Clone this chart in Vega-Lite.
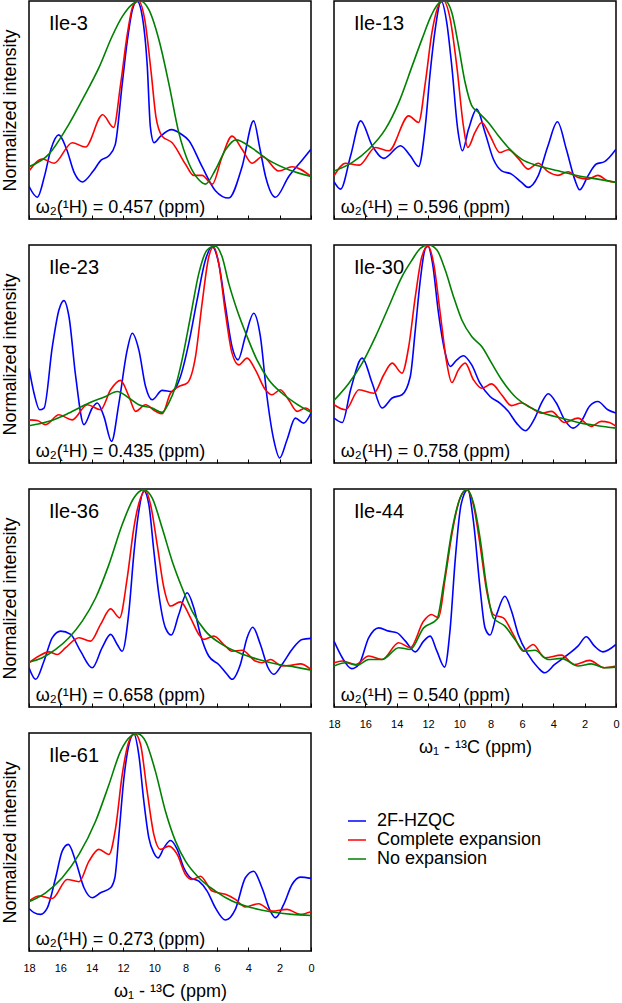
{
"$schema":"https://vega.github.io/schema/vega-lite/v6.json",
"padding":{"left":0,"top":0,"right":0,"bottom":0},
"data":{"values":[
{"p":"Ile-3","w":"ω₂(¹H) = 0.457 (ppm)"},
{"p":"Ile-13","w":"ω₂(¹H) = 0.596 (ppm)"},
{"p":"Ile-23","w":"ω₂(¹H) = 0.435 (ppm)"},
{"p":"Ile-30","w":"ω₂(¹H) = 0.758 (ppm)"},
{"p":"Ile-36","w":"ω₂(¹H) = 0.658 (ppm)"},
{"p":"Ile-44","w":"ω₂(¹H) = 0.540 (ppm)"},
{"p":"Ile-61","w":"ω₂(¹H) = 0.273 (ppm)"},

{"p":"Ile-3","s":"2F-HZQC","x":18,"y":0.15},{"p":"Ile-3","s":"2F-HZQC","x":17.47,"y":0.10},{"p":"Ile-3","s":"2F-HZQC","x":17.0,"y":0.2},{"p":"Ile-3","s":"2F-HZQC","x":16.6,"y":0.32},{"p":"Ile-3","s":"2F-HZQC","x":16.1,"y":0.386},{"p":"Ile-3","s":"2F-HZQC","x":15.6,"y":0.32},{"p":"Ile-3","s":"2F-HZQC","x":15.1,"y":0.21},{"p":"Ile-3","s":"2F-HZQC","x":14.6,"y":0.17},{"p":"Ile-3","s":"2F-HZQC","x":13.9,"y":0.22},{"p":"Ile-3","s":"2F-HZQC","x":13.4,"y":0.27},{"p":"Ile-3","s":"2F-HZQC","x":12.9,"y":0.29},{"p":"Ile-3","s":"2F-HZQC","x":12.5,"y":0.34},{"p":"Ile-3","s":"2F-HZQC","x":12.05,"y":0.62},{"p":"Ile-3","s":"2F-HZQC","x":11.72,"y":0.82},{"p":"Ile-3","s":"2F-HZQC","x":11.4,"y":0.96},{"p":"Ile-3","s":"2F-HZQC","x":11.1,"y":1.0},{"p":"Ile-3","s":"2F-HZQC","x":10.77,"y":0.93},{"p":"Ile-3","s":"2F-HZQC","x":10.45,"y":0.70},{"p":"Ile-3","s":"2F-HZQC","x":10.25,"y":0.42},{"p":"Ile-3","s":"2F-HZQC","x":10.02,"y":0.35},{"p":"Ile-3","s":"2F-HZQC","x":9.6,"y":0.38},{"p":"Ile-3","s":"2F-HZQC","x":8.9,"y":0.41},{"p":"Ile-3","s":"2F-HZQC","x":8.3,"y":0.39},{"p":"Ile-3","s":"2F-HZQC","x":7.8,"y":0.36},{"p":"Ile-3","s":"2F-HZQC","x":6.95,"y":0.24},{"p":"Ile-3","s":"2F-HZQC","x":6.1,"y":0.13},{"p":"Ile-3","s":"2F-HZQC","x":5.25,"y":0.096},{"p":"Ile-3","s":"2F-HZQC","x":4.4,"y":0.24},{"p":"Ile-3","s":"2F-HZQC","x":3.66,"y":0.45},{"p":"Ile-3","s":"2F-HZQC","x":3.28,"y":0.33},{"p":"Ile-3","s":"2F-HZQC","x":2.9,"y":0.195},{"p":"Ile-3","s":"2F-HZQC","x":2.27,"y":0.10},{"p":"Ile-3","s":"2F-HZQC","x":1.42,"y":0.195},{"p":"Ile-3","s":"2F-HZQC","x":0.57,"y":0.27},{"p":"Ile-3","s":"2F-HZQC","x":0,"y":0.32},

{"p":"Ile-3","s":"Complete expansion","x":18,"y":0.22},{"p":"Ile-3","s":"Complete expansion","x":17.15,"y":0.275},{"p":"Ile-3","s":"Complete expansion","x":16.4,"y":0.256},{"p":"Ile-3","s":"Complete expansion","x":15.24,"y":0.35},{"p":"Ile-3","s":"Complete expansion","x":14.4,"y":0.33},{"p":"Ile-3","s":"Complete expansion","x":13.3,"y":0.478},{"p":"Ile-3","s":"Complete expansion","x":12.6,"y":0.42},{"p":"Ile-3","s":"Complete expansion","x":12.15,"y":0.62},{"p":"Ile-3","s":"Complete expansion","x":11.72,"y":0.85},{"p":"Ile-3","s":"Complete expansion","x":11.35,"y":0.98},{"p":"Ile-3","s":"Complete expansion","x":11.0,"y":1.0},{"p":"Ile-3","s":"Complete expansion","x":10.6,"y":0.91},{"p":"Ile-3","s":"Complete expansion","x":10.2,"y":0.67},{"p":"Ile-3","s":"Complete expansion","x":9.9,"y":0.47},{"p":"Ile-3","s":"Complete expansion","x":9.5,"y":0.38},{"p":"Ile-3","s":"Complete expansion","x":8.86,"y":0.35},{"p":"Ile-3","s":"Complete expansion","x":8.0,"y":0.25},{"p":"Ile-3","s":"Complete expansion","x":7.5,"y":0.2},{"p":"Ile-3","s":"Complete expansion","x":6.95,"y":0.2},{"p":"Ile-3","s":"Complete expansion","x":6.3,"y":0.16},{"p":"Ile-3","s":"Complete expansion","x":5.7,"y":0.28},{"p":"Ile-3","s":"Complete expansion","x":5.04,"y":0.38},{"p":"Ile-3","s":"Complete expansion","x":4.4,"y":0.32},{"p":"Ile-3","s":"Complete expansion","x":3.76,"y":0.256},{"p":"Ile-3","s":"Complete expansion","x":3.1,"y":0.287},{"p":"Ile-3","s":"Complete expansion","x":2.06,"y":0.22},{"p":"Ile-3","s":"Complete expansion","x":1.2,"y":0.24},{"p":"Ile-3","s":"Complete expansion","x":0,"y":0.195},

{"p":"Ile-3","s":"No expansion","x":18,"y":0.24},{"p":"Ile-3","s":"No expansion","x":16.7,"y":0.30},{"p":"Ile-3","s":"No expansion","x":15.66,"y":0.41},{"p":"Ile-3","s":"No expansion","x":14.6,"y":0.547},{"p":"Ile-3","s":"No expansion","x":13.5,"y":0.70},{"p":"Ile-3","s":"No expansion","x":12.7,"y":0.837},{"p":"Ile-3","s":"No expansion","x":12.05,"y":0.928},{"p":"Ile-3","s":"No expansion","x":11.4,"y":0.986},{"p":"Ile-3","s":"No expansion","x":10.9,"y":1.0},{"p":"Ile-3","s":"No expansion","x":10.35,"y":0.96},{"p":"Ile-3","s":"No expansion","x":9.7,"y":0.82},{"p":"Ile-3","s":"No expansion","x":9.07,"y":0.62},{"p":"Ile-3","s":"No expansion","x":8.43,"y":0.394},{"p":"Ile-3","s":"No expansion","x":7.8,"y":0.256},{"p":"Ile-3","s":"No expansion","x":7.16,"y":0.18},{"p":"Ile-3","s":"No expansion","x":6.74,"y":0.16},{"p":"Ile-3","s":"No expansion","x":6.1,"y":0.226},{"p":"Ile-3","s":"No expansion","x":5.46,"y":0.317},{"p":"Ile-3","s":"No expansion","x":4.8,"y":0.363},{"p":"Ile-3","s":"No expansion","x":3.76,"y":0.325},{"p":"Ile-3","s":"No expansion","x":2.7,"y":0.27},{"p":"Ile-3","s":"No expansion","x":1.42,"y":0.226},{"p":"Ile-3","s":"No expansion","x":0,"y":0.195},

{"p":"Ile-13","s":"2F-HZQC","x":18,"y":0.171},{"p":"Ile-13","s":"2F-HZQC","x":17.58,"y":0.137},{"p":"Ile-13","s":"2F-HZQC","x":16.94,"y":0.29},{"p":"Ile-13","s":"2F-HZQC","x":16.3,"y":0.45},{"p":"Ile-13","s":"2F-HZQC","x":15.56,"y":0.336},{"p":"Ile-13","s":"2F-HZQC","x":14.82,"y":0.278},{"p":"Ile-13","s":"2F-HZQC","x":13.76,"y":0.336},{"p":"Ile-13","s":"2F-HZQC","x":13.13,"y":0.29},{"p":"Ile-13","s":"2F-HZQC","x":12.6,"y":0.241},{"p":"Ile-13","s":"2F-HZQC","x":12.17,"y":0.427},{"p":"Ile-13","s":"2F-HZQC","x":11.86,"y":0.672},{"p":"Ile-13","s":"2F-HZQC","x":11.54,"y":0.87},{"p":"Ile-13","s":"2F-HZQC","x":11.16,"y":1.0},{"p":"Ile-13","s":"2F-HZQC","x":10.8,"y":0.90},{"p":"Ile-13","s":"2F-HZQC","x":10.48,"y":0.70},{"p":"Ile-13","s":"2F-HZQC","x":10.1,"y":0.41},{"p":"Ile-13","s":"2F-HZQC","x":9.8,"y":0.313},{"p":"Ile-13","s":"2F-HZQC","x":9.42,"y":0.41},{"p":"Ile-13","s":"2F-HZQC","x":8.89,"y":0.504},{"p":"Ile-13","s":"2F-HZQC","x":8.36,"y":0.397},{"p":"Ile-13","s":"2F-HZQC","x":7.83,"y":0.275},{"p":"Ile-13","s":"2F-HZQC","x":7.3,"y":0.221},{"p":"Ile-13","s":"2F-HZQC","x":6.67,"y":0.206},{"p":"Ile-13","s":"2F-HZQC","x":6.03,"y":0.168},{"p":"Ile-13","s":"2F-HZQC","x":5.61,"y":0.145},{"p":"Ile-13","s":"2F-HZQC","x":4.97,"y":0.198},{"p":"Ile-13","s":"2F-HZQC","x":4.34,"y":0.336},{"p":"Ile-13","s":"2F-HZQC","x":3.74,"y":0.446},{"p":"Ile-13","s":"2F-HZQC","x":3.17,"y":0.32},{"p":"Ile-13","s":"2F-HZQC","x":2.64,"y":0.183},{"p":"Ile-13","s":"2F-HZQC","x":2.32,"y":0.134},{"p":"Ile-13","s":"2F-HZQC","x":1.79,"y":0.198},{"p":"Ile-13","s":"2F-HZQC","x":1.26,"y":0.252},{"p":"Ile-13","s":"2F-HZQC","x":0.73,"y":0.263},{"p":"Ile-13","s":"2F-HZQC","x":0,"y":0.32},

{"p":"Ile-13","s":"Complete expansion","x":18,"y":0.198},{"p":"Ile-13","s":"Complete expansion","x":17.26,"y":0.256},{"p":"Ile-13","s":"Complete expansion","x":16.4,"y":0.247},{"p":"Ile-13","s":"Complete expansion","x":15.35,"y":0.328},{"p":"Ile-13","s":"Complete expansion","x":14.5,"y":0.313},{"p":"Ile-13","s":"Complete expansion","x":13.23,"y":0.473},{"p":"Ile-13","s":"Complete expansion","x":12.6,"y":0.443},{"p":"Ile-13","s":"Complete expansion","x":12.17,"y":0.626},{"p":"Ile-13","s":"Complete expansion","x":11.75,"y":0.855},{"p":"Ile-13","s":"Complete expansion","x":11.22,"y":0.992},{"p":"Ile-13","s":"Complete expansion","x":11.0,"y":1.0},{"p":"Ile-13","s":"Complete expansion","x":10.58,"y":0.916},{"p":"Ile-13","s":"Complete expansion","x":10.16,"y":0.70},{"p":"Ile-13","s":"Complete expansion","x":9.74,"y":0.427},{"p":"Ile-13","s":"Complete expansion","x":9.46,"y":0.328},{"p":"Ile-13","s":"Complete expansion","x":9.0,"y":0.397},{"p":"Ile-13","s":"Complete expansion","x":8.57,"y":0.443},{"p":"Ile-13","s":"Complete expansion","x":8.04,"y":0.382},{"p":"Ile-13","s":"Complete expansion","x":7.41,"y":0.305},{"p":"Ile-13","s":"Complete expansion","x":6.88,"y":0.318},{"p":"Ile-13","s":"Complete expansion","x":6.24,"y":0.278},{"p":"Ile-13","s":"Complete expansion","x":5.61,"y":0.229},{"p":"Ile-13","s":"Complete expansion","x":4.97,"y":0.256},{"p":"Ile-13","s":"Complete expansion","x":4.34,"y":0.217},{"p":"Ile-13","s":"Complete expansion","x":3.7,"y":0.20},{"p":"Ile-13","s":"Complete expansion","x":3.06,"y":0.217},{"p":"Ile-13","s":"Complete expansion","x":2.43,"y":0.19},{"p":"Ile-13","s":"Complete expansion","x":1.79,"y":0.183},{"p":"Ile-13","s":"Complete expansion","x":1.16,"y":0.20},{"p":"Ile-13","s":"Complete expansion","x":0.52,"y":0.175},{"p":"Ile-13","s":"Complete expansion","x":0,"y":0.168},

{"p":"Ile-13","s":"No expansion","x":18,"y":0.22},{"p":"Ile-13","s":"No expansion","x":16.83,"y":0.26},{"p":"Ile-13","s":"No expansion","x":15.78,"y":0.32},{"p":"Ile-13","s":"No expansion","x":14.72,"y":0.412},{"p":"Ile-13","s":"No expansion","x":13.87,"y":0.534},{"p":"Ile-13","s":"No expansion","x":13.02,"y":0.70},{"p":"Ile-13","s":"No expansion","x":12.39,"y":0.824},{"p":"Ile-13","s":"No expansion","x":11.75,"y":0.94},{"p":"Ile-13","s":"No expansion","x":11.22,"y":0.995},{"p":"Ile-13","s":"No expansion","x":10.9,"y":1.0},{"p":"Ile-13","s":"No expansion","x":10.48,"y":0.947},{"p":"Ile-13","s":"No expansion","x":10.05,"y":0.794},{"p":"Ile-13","s":"No expansion","x":9.63,"y":0.626},{"p":"Ile-13","s":"No expansion","x":9.2,"y":0.519},{"p":"Ile-13","s":"No expansion","x":8.78,"y":0.489},{"p":"Ile-13","s":"No expansion","x":8.15,"y":0.443},{"p":"Ile-13","s":"No expansion","x":7.51,"y":0.382},{"p":"Ile-13","s":"No expansion","x":6.88,"y":0.328},{"p":"Ile-13","s":"No expansion","x":6.03,"y":0.275},{"p":"Ile-13","s":"No expansion","x":4.97,"y":0.244},{"p":"Ile-13","s":"No expansion","x":3.7,"y":0.221},{"p":"Ile-13","s":"No expansion","x":2.43,"y":0.198},{"p":"Ile-13","s":"No expansion","x":1.16,"y":0.183},{"p":"Ile-13","s":"No expansion","x":0,"y":0.168},

{"p":"Ile-23","s":"2F-HZQC","x":18,"y":0.435},{"p":"Ile-23","s":"2F-HZQC","x":17.68,"y":0.32},{"p":"Ile-23","s":"2F-HZQC","x":17.32,"y":0.244},{"p":"Ile-23","s":"2F-HZQC","x":17.04,"y":0.252},{"p":"Ile-23","s":"2F-HZQC","x":16.51,"y":0.534},{"p":"Ile-23","s":"2F-HZQC","x":16.09,"y":0.702},{"p":"Ile-23","s":"2F-HZQC","x":15.77,"y":0.745},{"p":"Ile-23","s":"2F-HZQC","x":15.45,"y":0.672},{"p":"Ile-23","s":"2F-HZQC","x":15.02,"y":0.397},{"p":"Ile-23","s":"2F-HZQC","x":14.49,"y":0.176},{"p":"Ile-23","s":"2F-HZQC","x":13.96,"y":0.252},{"p":"Ile-23","s":"2F-HZQC","x":13.64,"y":0.275},{"p":"Ile-23","s":"2F-HZQC","x":13.22,"y":0.214},{"p":"Ile-23","s":"2F-HZQC","x":12.73,"y":0.099},{"p":"Ile-23","s":"2F-HZQC","x":12.26,"y":0.275},{"p":"Ile-23","s":"2F-HZQC","x":11.73,"y":0.519},{"p":"Ile-23","s":"2F-HZQC","x":11.41,"y":0.595},{"p":"Ile-23","s":"2F-HZQC","x":10.99,"y":0.519},{"p":"Ile-23","s":"2F-HZQC","x":10.56,"y":0.351},{"p":"Ile-23","s":"2F-HZQC","x":10.14,"y":0.29},{"p":"Ile-23","s":"2F-HZQC","x":9.5,"y":0.333},{"p":"Ile-23","s":"2F-HZQC","x":8.86,"y":0.328},{"p":"Ile-23","s":"2F-HZQC","x":8.33,"y":0.397},{"p":"Ile-23","s":"2F-HZQC","x":7.8,"y":0.55},{"p":"Ile-23","s":"2F-HZQC","x":7.27,"y":0.748},{"p":"Ile-23","s":"2F-HZQC","x":6.74,"y":0.931},{"p":"Ile-23","s":"2F-HZQC","x":6.31,"y":0.992},{"p":"Ile-23","s":"2F-HZQC","x":5.89,"y":0.916},{"p":"Ile-23","s":"2F-HZQC","x":5.46,"y":0.718},{"p":"Ile-23","s":"2F-HZQC","x":5.04,"y":0.534},{"p":"Ile-23","s":"2F-HZQC","x":4.66,"y":0.473},{"p":"Ile-23","s":"2F-HZQC","x":4.19,"y":0.58},{"p":"Ile-23","s":"2F-HZQC","x":3.66,"y":0.687},{"p":"Ile-23","s":"2F-HZQC","x":3.23,"y":0.58},{"p":"Ile-23","s":"2F-HZQC","x":2.81,"y":0.305},{"p":"Ile-23","s":"2F-HZQC","x":2.38,"y":0.107},{"p":"Ile-23","s":"2F-HZQC","x":2.0,"y":0.023},{"p":"Ile-23","s":"2F-HZQC","x":1.53,"y":0.107},{"p":"Ile-23","s":"2F-HZQC","x":1.0,"y":0.206},{"p":"Ile-23","s":"2F-HZQC","x":0.47,"y":0.183},{"p":"Ile-23","s":"2F-HZQC","x":0,"y":0.229},

{"p":"Ile-23","s":"Complete expansion","x":18,"y":0.198},{"p":"Ile-23","s":"Complete expansion","x":17.47,"y":0.195},{"p":"Ile-23","s":"Complete expansion","x":16.94,"y":0.176},{"p":"Ile-23","s":"Complete expansion","x":16.09,"y":0.221},{"p":"Ile-23","s":"Complete expansion","x":15.24,"y":0.198},{"p":"Ile-23","s":"Complete expansion","x":14.28,"y":0.267},{"p":"Ile-23","s":"Complete expansion","x":13.43,"y":0.244},{"p":"Ile-23","s":"Complete expansion","x":12.79,"y":0.336},{"p":"Ile-23","s":"Complete expansion","x":12.16,"y":0.379},{"p":"Ile-23","s":"Complete expansion","x":11.62,"y":0.305},{"p":"Ile-23","s":"Complete expansion","x":11.2,"y":0.237},{"p":"Ile-23","s":"Complete expansion","x":10.56,"y":0.267},{"p":"Ile-23","s":"Complete expansion","x":9.92,"y":0.237},{"p":"Ile-23","s":"Complete expansion","x":9.5,"y":0.226},{"p":"Ile-23","s":"Complete expansion","x":8.97,"y":0.32},{"p":"Ile-23","s":"Complete expansion","x":8.44,"y":0.351},{"p":"Ile-23","s":"Complete expansion","x":7.91,"y":0.366},{"p":"Ile-23","s":"Complete expansion","x":7.37,"y":0.489},{"p":"Ile-23","s":"Complete expansion","x":6.95,"y":0.733},{"p":"Ile-23","s":"Complete expansion","x":6.52,"y":0.947},{"p":"Ile-23","s":"Complete expansion","x":6.21,"y":0.992},{"p":"Ile-23","s":"Complete expansion","x":5.89,"y":0.916},{"p":"Ile-23","s":"Complete expansion","x":5.46,"y":0.687},{"p":"Ile-23","s":"Complete expansion","x":5.04,"y":0.504},{"p":"Ile-23","s":"Complete expansion","x":4.61,"y":0.45},{"p":"Ile-23","s":"Complete expansion","x":4.08,"y":0.481},{"p":"Ile-23","s":"Complete expansion","x":3.55,"y":0.427},{"p":"Ile-23","s":"Complete expansion","x":2.91,"y":0.336},{"p":"Ile-23","s":"Complete expansion","x":2.49,"y":0.313},{"p":"Ile-23","s":"Complete expansion","x":1.96,"y":0.336},{"p":"Ile-23","s":"Complete expansion","x":1.43,"y":0.29},{"p":"Ile-23","s":"Complete expansion","x":0.89,"y":0.237},{"p":"Ile-23","s":"Complete expansion","x":0.36,"y":0.252},{"p":"Ile-23","s":"Complete expansion","x":0,"y":0.237},

{"p":"Ile-23","s":"No expansion","x":18,"y":0.171},{"p":"Ile-23","s":"No expansion","x":16.72,"y":0.191},{"p":"Ile-23","s":"No expansion","x":15.45,"y":0.229},{"p":"Ile-23","s":"No expansion","x":14.17,"y":0.275},{"p":"Ile-23","s":"No expansion","x":13.11,"y":0.305},{"p":"Ile-23","s":"No expansion","x":12.37,"y":0.328},{"p":"Ile-23","s":"No expansion","x":11.62,"y":0.298},{"p":"Ile-23","s":"No expansion","x":10.99,"y":0.267},{"p":"Ile-23","s":"No expansion","x":10.14,"y":0.252},{"p":"Ile-23","s":"No expansion","x":9.5,"y":0.232},{"p":"Ile-23","s":"No expansion","x":9.08,"y":0.275},{"p":"Ile-23","s":"No expansion","x":8.65,"y":0.351},{"p":"Ile-23","s":"No expansion","x":8.23,"y":0.473},{"p":"Ile-23","s":"No expansion","x":7.69,"y":0.672},{"p":"Ile-23","s":"No expansion","x":7.16,"y":0.87},{"p":"Ile-23","s":"No expansion","x":6.63,"y":0.977},{"p":"Ile-23","s":"No expansion","x":6.1,"y":0.995},{"p":"Ile-23","s":"No expansion","x":5.68,"y":0.947},{"p":"Ile-23","s":"No expansion","x":5.25,"y":0.824},{"p":"Ile-23","s":"No expansion","x":4.72,"y":0.702},{"p":"Ile-23","s":"No expansion","x":4.08,"y":0.58},{"p":"Ile-23","s":"No expansion","x":3.45,"y":0.473},{"p":"Ile-23","s":"No expansion","x":2.7,"y":0.382},{"p":"Ile-23","s":"No expansion","x":1.85,"y":0.32},{"p":"Ile-23","s":"No expansion","x":1.0,"y":0.275},{"p":"Ile-23","s":"No expansion","x":0,"y":0.232},

{"p":"Ile-30","s":"2F-HZQC","x":18,"y":0.206},{"p":"Ile-30","s":"2F-HZQC","x":17.47,"y":0.186},{"p":"Ile-30","s":"2F-HZQC","x":16.94,"y":0.336},{"p":"Ile-30","s":"2F-HZQC","x":16.2,"y":0.481},{"p":"Ile-30","s":"2F-HZQC","x":15.56,"y":0.366},{"p":"Ile-30","s":"2F-HZQC","x":14.93,"y":0.252},{"p":"Ile-30","s":"2F-HZQC","x":14.29,"y":0.298},{"p":"Ile-30","s":"2F-HZQC","x":13.66,"y":0.313},{"p":"Ile-30","s":"2F-HZQC","x":13.13,"y":0.397},{"p":"Ile-30","s":"2F-HZQC","x":12.81,"y":0.611},{"p":"Ile-30","s":"2F-HZQC","x":12.49,"y":0.84},{"p":"Ile-30","s":"2F-HZQC","x":12.17,"y":0.985},{"p":"Ile-30","s":"2F-HZQC","x":12.0,"y":0.995},{"p":"Ile-30","s":"2F-HZQC","x":11.71,"y":0.916},{"p":"Ile-30","s":"2F-HZQC","x":11.33,"y":0.687},{"p":"Ile-30","s":"2F-HZQC","x":10.9,"y":0.504},{"p":"Ile-30","s":"2F-HZQC","x":10.58,"y":0.443},{"p":"Ile-30","s":"2F-HZQC","x":10.16,"y":0.473},{"p":"Ile-30","s":"2F-HZQC","x":9.74,"y":0.492},{"p":"Ile-30","s":"2F-HZQC","x":9.21,"y":0.45},{"p":"Ile-30","s":"2F-HZQC","x":8.68,"y":0.366},{"p":"Ile-30","s":"2F-HZQC","x":8.04,"y":0.305},{"p":"Ile-30","s":"2F-HZQC","x":7.41,"y":0.275},{"p":"Ile-30","s":"2F-HZQC","x":6.88,"y":0.237},{"p":"Ile-30","s":"2F-HZQC","x":6.35,"y":0.183},{"p":"Ile-30","s":"2F-HZQC","x":5.78,"y":0.148},{"p":"Ile-30","s":"2F-HZQC","x":5.18,"y":0.206},{"p":"Ile-30","s":"2F-HZQC","x":4.76,"y":0.275},{"p":"Ile-30","s":"2F-HZQC","x":4.33,"y":0.318},{"p":"Ile-30","s":"2F-HZQC","x":3.81,"y":0.275},{"p":"Ile-30","s":"2F-HZQC","x":3.28,"y":0.198},{"p":"Ile-30","s":"2F-HZQC","x":2.75,"y":0.16},{"p":"Ile-30","s":"2F-HZQC","x":2.22,"y":0.191},{"p":"Ile-30","s":"2F-HZQC","x":1.69,"y":0.26},{"p":"Ile-30","s":"2F-HZQC","x":1.16,"y":0.282},{"p":"Ile-30","s":"2F-HZQC","x":0.52,"y":0.244},{"p":"Ile-30","s":"2F-HZQC","x":0,"y":0.229},

{"p":"Ile-30","s":"Complete expansion","x":18,"y":0.267},{"p":"Ile-30","s":"Complete expansion","x":17.26,"y":0.244},{"p":"Ile-30","s":"Complete expansion","x":16.41,"y":0.336},{"p":"Ile-30","s":"Complete expansion","x":15.46,"y":0.32},{"p":"Ile-30","s":"Complete expansion","x":14.82,"y":0.405},{"p":"Ile-30","s":"Complete expansion","x":14.29,"y":0.458},{"p":"Ile-30","s":"Complete expansion","x":13.66,"y":0.412},{"p":"Ile-30","s":"Complete expansion","x":13.23,"y":0.534},{"p":"Ile-30","s":"Complete expansion","x":12.81,"y":0.763},{"p":"Ile-30","s":"Complete expansion","x":12.39,"y":0.947},{"p":"Ile-30","s":"Complete expansion","x":12.0,"y":0.995},{"p":"Ile-30","s":"Complete expansion","x":11.64,"y":0.916},{"p":"Ile-30","s":"Complete expansion","x":11.22,"y":0.687},{"p":"Ile-30","s":"Complete expansion","x":10.8,"y":0.458},{"p":"Ile-30","s":"Complete expansion","x":10.48,"y":0.369},{"p":"Ile-30","s":"Complete expansion","x":10.06,"y":0.427},{"p":"Ile-30","s":"Complete expansion","x":9.63,"y":0.458},{"p":"Ile-30","s":"Complete expansion","x":9.1,"y":0.382},{"p":"Ile-30","s":"Complete expansion","x":8.57,"y":0.343},{"p":"Ile-30","s":"Complete expansion","x":7.94,"y":0.363},{"p":"Ile-30","s":"Complete expansion","x":7.3,"y":0.313},{"p":"Ile-30","s":"Complete expansion","x":6.67,"y":0.263},{"p":"Ile-30","s":"Complete expansion","x":6.03,"y":0.275},{"p":"Ile-30","s":"Complete expansion","x":5.4,"y":0.252},{"p":"Ile-30","s":"Complete expansion","x":4.76,"y":0.229},{"p":"Ile-30","s":"Complete expansion","x":4.12,"y":0.237},{"p":"Ile-30","s":"Complete expansion","x":3.28,"y":0.186},{"p":"Ile-30","s":"Complete expansion","x":2.43,"y":0.206},{"p":"Ile-30","s":"Complete expansion","x":1.58,"y":0.168},{"p":"Ile-30","s":"Complete expansion","x":0.95,"y":0.191},{"p":"Ile-30","s":"Complete expansion","x":0.42,"y":0.186},{"p":"Ile-30","s":"Complete expansion","x":0,"y":0.168},

{"p":"Ile-30","s":"No expansion","x":18,"y":0.287},{"p":"Ile-30","s":"No expansion","x":17.05,"y":0.366},{"p":"Ile-30","s":"No expansion","x":16.2,"y":0.458},{"p":"Ile-30","s":"No expansion","x":15.35,"y":0.58},{"p":"Ile-30","s":"No expansion","x":14.5,"y":0.718},{"p":"Ile-30","s":"No expansion","x":13.66,"y":0.855},{"p":"Ile-30","s":"No expansion","x":13.02,"y":0.931},{"p":"Ile-30","s":"No expansion","x":12.49,"y":0.985},{"p":"Ile-30","s":"No expansion","x":11.96,"y":1.0},{"p":"Ile-30","s":"No expansion","x":11.43,"y":0.977},{"p":"Ile-30","s":"No expansion","x":10.9,"y":0.885},{"p":"Ile-30","s":"No expansion","x":10.37,"y":0.763},{"p":"Ile-30","s":"No expansion","x":9.84,"y":0.656},{"p":"Ile-30","s":"No expansion","x":9.21,"y":0.58},{"p":"Ile-30","s":"No expansion","x":8.57,"y":0.534},{"p":"Ile-30","s":"No expansion","x":7.94,"y":0.458},{"p":"Ile-30","s":"No expansion","x":7.3,"y":0.382},{"p":"Ile-30","s":"No expansion","x":6.45,"y":0.305},{"p":"Ile-30","s":"No expansion","x":5.61,"y":0.26},{"p":"Ile-30","s":"No expansion","x":4.76,"y":0.232},{"p":"Ile-30","s":"No expansion","x":3.49,"y":0.206},{"p":"Ile-30","s":"No expansion","x":2.22,"y":0.183},{"p":"Ile-30","s":"No expansion","x":1.16,"y":0.171},{"p":"Ile-30","s":"No expansion","x":0,"y":0.16},

{"p":"Ile-36","s":"2F-HZQC","x":18,"y":0.18},{"p":"Ile-36","s":"2F-HZQC","x":17.57,"y":0.127},{"p":"Ile-36","s":"2F-HZQC","x":17.04,"y":0.211},{"p":"Ile-36","s":"2F-HZQC","x":16.51,"y":0.318},{"p":"Ile-36","s":"2F-HZQC","x":15.98,"y":0.348},{"p":"Ile-36","s":"2F-HZQC","x":15.34,"y":0.333},{"p":"Ile-36","s":"2F-HZQC","x":14.71,"y":0.256},{"p":"Ile-36","s":"2F-HZQC","x":13.96,"y":0.18},{"p":"Ile-36","s":"2F-HZQC","x":13.33,"y":0.272},{"p":"Ile-36","s":"2F-HZQC","x":12.79,"y":0.333},{"p":"Ile-36","s":"2F-HZQC","x":12.37,"y":0.287},{"p":"Ile-36","s":"2F-HZQC","x":12.05,"y":0.256},{"p":"Ile-36","s":"2F-HZQC","x":11.62,"y":0.44},{"p":"Ile-36","s":"2F-HZQC","x":11.31,"y":0.70},{"p":"Ile-36","s":"2F-HZQC","x":10.99,"y":0.898},{"p":"Ile-36","s":"2F-HZQC","x":10.67,"y":0.992},{"p":"Ile-36","s":"2F-HZQC","x":10.35,"y":0.928},{"p":"Ile-36","s":"2F-HZQC","x":10.03,"y":0.715},{"p":"Ile-36","s":"2F-HZQC","x":9.71,"y":0.516},{"p":"Ile-36","s":"2F-HZQC","x":9.29,"y":0.363},{"p":"Ile-36","s":"2F-HZQC","x":8.91,"y":0.33},{"p":"Ile-36","s":"2F-HZQC","x":8.44,"y":0.424},{"p":"Ile-36","s":"2F-HZQC","x":7.91,"y":0.524},{"p":"Ile-36","s":"2F-HZQC","x":7.48,"y":0.455},{"p":"Ile-36","s":"2F-HZQC","x":7.06,"y":0.333},{"p":"Ile-36","s":"2F-HZQC","x":6.53,"y":0.234},{"p":"Ile-36","s":"2F-HZQC","x":5.89,"y":0.195},{"p":"Ile-36","s":"2F-HZQC","x":5.36,"y":0.15},{"p":"Ile-36","s":"2F-HZQC","x":5.04,"y":0.127},{"p":"Ile-36","s":"2F-HZQC","x":4.51,"y":0.195},{"p":"Ile-36","s":"2F-HZQC","x":4.08,"y":0.318},{"p":"Ile-36","s":"2F-HZQC","x":3.72,"y":0.366},{"p":"Ile-36","s":"2F-HZQC","x":3.23,"y":0.287},{"p":"Ile-36","s":"2F-HZQC","x":2.74,"y":0.18},{"p":"Ile-36","s":"2F-HZQC","x":2.38,"y":0.15},{"p":"Ile-36","s":"2F-HZQC","x":1.85,"y":0.195},{"p":"Ile-36","s":"2F-HZQC","x":1.21,"y":0.264},{"p":"Ile-36","s":"2F-HZQC","x":0.57,"y":0.31},{"p":"Ile-36","s":"2F-HZQC","x":0,"y":0.315},

{"p":"Ile-36","s":"Complete expansion","x":18,"y":0.203},{"p":"Ile-36","s":"Complete expansion","x":17.36,"y":0.234},{"p":"Ile-36","s":"Complete expansion","x":16.72,"y":0.253},{"p":"Ile-36","s":"Complete expansion","x":16.19,"y":0.241},{"p":"Ile-36","s":"Complete expansion","x":15.66,"y":0.272},{"p":"Ile-36","s":"Complete expansion","x":14.81,"y":0.318},{"p":"Ile-36","s":"Complete expansion","x":14.07,"y":0.302},{"p":"Ile-36","s":"Complete expansion","x":13.43,"y":0.379},{"p":"Ile-36","s":"Complete expansion","x":12.79,"y":0.45},{"p":"Ile-36","s":"Complete expansion","x":12.22,"y":0.409},{"p":"Ile-36","s":"Complete expansion","x":11.73,"y":0.592},{"p":"Ile-36","s":"Complete expansion","x":11.31,"y":0.821},{"p":"Ile-36","s":"Complete expansion","x":10.88,"y":0.959},{"p":"Ile-36","s":"Complete expansion","x":10.56,"y":0.992},{"p":"Ile-36","s":"Complete expansion","x":10.24,"y":0.928},{"p":"Ile-36","s":"Complete expansion","x":9.82,"y":0.745},{"p":"Ile-36","s":"Complete expansion","x":9.39,"y":0.547},{"p":"Ile-36","s":"Complete expansion","x":8.97,"y":0.463},{"p":"Ile-36","s":"Complete expansion","x":8.33,"y":0.482},{"p":"Ile-36","s":"Complete expansion","x":7.69,"y":0.409},{"p":"Ile-36","s":"Complete expansion","x":7.16,"y":0.333},{"p":"Ile-36","s":"Complete expansion","x":6.84,"y":0.31},{"p":"Ile-36","s":"Complete expansion","x":6.21,"y":0.325},{"p":"Ile-36","s":"Complete expansion","x":5.46,"y":0.279},{"p":"Ile-36","s":"Complete expansion","x":5.04,"y":0.256},{"p":"Ile-36","s":"Complete expansion","x":4.4,"y":0.26},{"p":"Ile-36","s":"Complete expansion","x":3.55,"y":0.211},{"p":"Ile-36","s":"Complete expansion","x":3.13,"y":0.203},{"p":"Ile-36","s":"Complete expansion","x":2.59,"y":0.218},{"p":"Ile-36","s":"Complete expansion","x":1.85,"y":0.188},{"p":"Ile-36","s":"Complete expansion","x":1.21,"y":0.192},{"p":"Ile-36","s":"Complete expansion","x":0.68,"y":0.198},{"p":"Ile-36","s":"Complete expansion","x":0,"y":0.172},

{"p":"Ile-36","s":"No expansion","x":18,"y":0.206},{"p":"Ile-36","s":"No expansion","x":17.15,"y":0.226},{"p":"Ile-36","s":"No expansion","x":16.3,"y":0.264},{"p":"Ile-36","s":"No expansion","x":15.45,"y":0.318},{"p":"Ile-36","s":"No expansion","x":14.6,"y":0.394},{"p":"Ile-36","s":"No expansion","x":13.75,"y":0.50},{"p":"Ile-36","s":"No expansion","x":12.9,"y":0.653},{"p":"Ile-36","s":"No expansion","x":12.05,"y":0.837},{"p":"Ile-36","s":"No expansion","x":11.31,"y":0.959},{"p":"Ile-36","s":"No expansion","x":10.67,"y":0.997},{"p":"Ile-36","s":"No expansion","x":10.14,"y":0.959},{"p":"Ile-36","s":"No expansion","x":9.5,"y":0.821},{"p":"Ile-36","s":"No expansion","x":8.86,"y":0.669},{"p":"Ile-36","s":"No expansion","x":8.23,"y":0.547},{"p":"Ile-36","s":"No expansion","x":7.59,"y":0.44},{"p":"Ile-36","s":"No expansion","x":6.74,"y":0.348},{"p":"Ile-36","s":"No expansion","x":5.68,"y":0.287},{"p":"Ile-36","s":"No expansion","x":4.61,"y":0.249},{"p":"Ile-36","s":"No expansion","x":3.34,"y":0.218},{"p":"Ile-36","s":"No expansion","x":2.06,"y":0.195},{"p":"Ile-36","s":"No expansion","x":1.0,"y":0.183},{"p":"Ile-36","s":"No expansion","x":0,"y":0.169},

{"p":"Ile-44","s":"2F-HZQC","x":18,"y":0.302},{"p":"Ile-44","s":"2F-HZQC","x":17.47,"y":0.226},{"p":"Ile-44","s":"2F-HZQC","x":16.88,"y":0.176},{"p":"Ile-44","s":"2F-HZQC","x":16.41,"y":0.195},{"p":"Ile-44","s":"2F-HZQC","x":15.78,"y":0.318},{"p":"Ile-44","s":"2F-HZQC","x":15.14,"y":0.363},{"p":"Ile-44","s":"2F-HZQC","x":14.5,"y":0.348},{"p":"Ile-44","s":"2F-HZQC","x":13.97,"y":0.34},{"p":"Ile-44","s":"2F-HZQC","x":13.44,"y":0.302},{"p":"Ile-44","s":"2F-HZQC","x":12.81,"y":0.253},{"p":"Ile-44","s":"2F-HZQC","x":12.28,"y":0.302},{"p":"Ile-44","s":"2F-HZQC","x":11.86,"y":0.325},{"p":"Ile-44","s":"2F-HZQC","x":11.43,"y":0.256},{"p":"Ile-44","s":"2F-HZQC","x":10.94,"y":0.183},{"p":"Ile-44","s":"2F-HZQC","x":10.58,"y":0.363},{"p":"Ile-44","s":"2F-HZQC","x":10.27,"y":0.669},{"p":"Ile-44","s":"2F-HZQC","x":9.89,"y":0.928},{"p":"Ile-44","s":"2F-HZQC","x":9.46,"y":0.997},{"p":"Ile-44","s":"2F-HZQC","x":9.1,"y":0.852},{"p":"Ile-44","s":"2F-HZQC","x":8.68,"y":0.547},{"p":"Ile-44","s":"2F-HZQC","x":8.36,"y":0.363},{"p":"Ile-44","s":"2F-HZQC","x":8.04,"y":0.33},{"p":"Ile-44","s":"2F-HZQC","x":7.62,"y":0.424},{"p":"Ile-44","s":"2F-HZQC","x":7.09,"y":0.508},{"p":"Ile-44","s":"2F-HZQC","x":6.67,"y":0.44},{"p":"Ile-44","s":"2F-HZQC","x":6.24,"y":0.333},{"p":"Ile-44","s":"2F-HZQC","x":5.61,"y":0.241},{"p":"Ile-44","s":"2F-HZQC","x":4.97,"y":0.18},{"p":"Ile-44","s":"2F-HZQC","x":4.55,"y":0.157},{"p":"Ile-44","s":"2F-HZQC","x":3.91,"y":0.195},{"p":"Ile-44","s":"2F-HZQC","x":3.06,"y":0.241},{"p":"Ile-44","s":"2F-HZQC","x":2.43,"y":0.279},{"p":"Ile-44","s":"2F-HZQC","x":1.9,"y":0.322},{"p":"Ile-44","s":"2F-HZQC","x":1.37,"y":0.279},{"p":"Ile-44","s":"2F-HZQC","x":0.84,"y":0.253},{"p":"Ile-44","s":"2F-HZQC","x":0,"y":0.287},

{"p":"Ile-44","s":"Complete expansion","x":18,"y":0.203},{"p":"Ile-44","s":"Complete expansion","x":17.47,"y":0.211},{"p":"Ile-44","s":"Complete expansion","x":16.62,"y":0.195},{"p":"Ile-44","s":"Complete expansion","x":15.78,"y":0.234},{"p":"Ile-44","s":"Complete expansion","x":14.93,"y":0.218},{"p":"Ile-44","s":"Complete expansion","x":13.87,"y":0.295},{"p":"Ile-44","s":"Complete expansion","x":13.13,"y":0.272},{"p":"Ile-44","s":"Complete expansion","x":12.28,"y":0.394},{"p":"Ile-44","s":"Complete expansion","x":11.79,"y":0.424},{"p":"Ile-44","s":"Complete expansion","x":11.33,"y":0.409},{"p":"Ile-44","s":"Complete expansion","x":10.9,"y":0.592},{"p":"Ile-44","s":"Complete expansion","x":10.48,"y":0.791},{"p":"Ile-44","s":"Complete expansion","x":9.95,"y":0.959},{"p":"Ile-44","s":"Complete expansion","x":9.53,"y":0.997},{"p":"Ile-44","s":"Complete expansion","x":9.1,"y":0.928},{"p":"Ile-44","s":"Complete expansion","x":8.68,"y":0.745},{"p":"Ile-44","s":"Complete expansion","x":8.25,"y":0.531},{"p":"Ile-44","s":"Complete expansion","x":7.83,"y":0.424},{"p":"Ile-44","s":"Complete expansion","x":7.19,"y":0.409},{"p":"Ile-44","s":"Complete expansion","x":6.56,"y":0.333},{"p":"Ile-44","s":"Complete expansion","x":5.92,"y":0.256},{"p":"Ile-44","s":"Complete expansion","x":5.29,"y":0.287},{"p":"Ile-44","s":"Complete expansion","x":4.55,"y":0.226},{"p":"Ile-44","s":"Complete expansion","x":3.49,"y":0.238},{"p":"Ile-44","s":"Complete expansion","x":2.64,"y":0.195},{"p":"Ile-44","s":"Complete expansion","x":1.69,"y":0.214},{"p":"Ile-44","s":"Complete expansion","x":0.74,"y":0.18},{"p":"Ile-44","s":"Complete expansion","x":0,"y":0.188},

{"p":"Ile-44","s":"No expansion","x":18,"y":0.188},{"p":"Ile-44","s":"No expansion","x":17.26,"y":0.203},{"p":"Ile-44","s":"No expansion","x":16.52,"y":0.192},{"p":"Ile-44","s":"No expansion","x":15.78,"y":0.218},{"p":"Ile-44","s":"No expansion","x":14.93,"y":0.218},{"p":"Ile-44","s":"No expansion","x":13.87,"y":0.272},{"p":"Ile-44","s":"No expansion","x":13.13,"y":0.264},{"p":"Ile-44","s":"No expansion","x":12.28,"y":0.363},{"p":"Ile-44","s":"No expansion","x":11.43,"y":0.402},{"p":"Ile-44","s":"No expansion","x":11.01,"y":0.562},{"p":"Ile-44","s":"No expansion","x":10.48,"y":0.806},{"p":"Ile-44","s":"No expansion","x":9.95,"y":0.959},{"p":"Ile-44","s":"No expansion","x":9.53,"y":0.997},{"p":"Ile-44","s":"No expansion","x":9.1,"y":0.936},{"p":"Ile-44","s":"No expansion","x":8.68,"y":0.776},{"p":"Ile-44","s":"No expansion","x":8.25,"y":0.547},{"p":"Ile-44","s":"No expansion","x":7.83,"y":0.409},{"p":"Ile-44","s":"No expansion","x":7.09,"y":0.371},{"p":"Ile-44","s":"No expansion","x":6.45,"y":0.31},{"p":"Ile-44","s":"No expansion","x":5.82,"y":0.256},{"p":"Ile-44","s":"No expansion","x":5.18,"y":0.26},{"p":"Ile-44","s":"No expansion","x":4.33,"y":0.218},{"p":"Ile-44","s":"No expansion","x":3.49,"y":0.223},{"p":"Ile-44","s":"No expansion","x":2.43,"y":0.188},{"p":"Ile-44","s":"No expansion","x":1.58,"y":0.198},{"p":"Ile-44","s":"No expansion","x":0.74,"y":0.18},{"p":"Ile-44","s":"No expansion","x":0,"y":0.183},

{"p":"Ile-61","s":"2F-HZQC","x":18,"y":0.195},{"p":"Ile-61","s":"2F-HZQC","x":17.68,"y":0.176},{"p":"Ile-61","s":"2F-HZQC","x":17.26,"y":0.168},{"p":"Ile-61","s":"2F-HZQC","x":16.83,"y":0.198},{"p":"Ile-61","s":"2F-HZQC","x":16.3,"y":0.336},{"p":"Ile-61","s":"2F-HZQC","x":15.88,"y":0.458},{"p":"Ile-61","s":"2F-HZQC","x":15.49,"y":0.489},{"p":"Ile-61","s":"2F-HZQC","x":15.02,"y":0.412},{"p":"Ile-61","s":"2F-HZQC","x":14.49,"y":0.29},{"p":"Ile-61","s":"2F-HZQC","x":13.96,"y":0.244},{"p":"Ile-61","s":"2F-HZQC","x":13.43,"y":0.267},{"p":"Ile-61","s":"2F-HZQC","x":12.79,"y":0.29},{"p":"Ile-61","s":"2F-HZQC","x":12.52,"y":0.336},{"p":"Ile-61","s":"2F-HZQC","x":12.26,"y":0.534},{"p":"Ile-61","s":"2F-HZQC","x":11.94,"y":0.794},{"p":"Ile-61","s":"2F-HZQC","x":11.62,"y":0.947},{"p":"Ile-61","s":"2F-HZQC","x":11.31,"y":0.997},{"p":"Ile-61","s":"2F-HZQC","x":10.99,"y":0.90},{"p":"Ile-61","s":"2F-HZQC","x":10.67,"y":0.687},{"p":"Ile-61","s":"2F-HZQC","x":10.35,"y":0.519},{"p":"Ile-61","s":"2F-HZQC","x":10.03,"y":0.45},{"p":"Ile-61","s":"2F-HZQC","x":9.76,"y":0.427},{"p":"Ile-61","s":"2F-HZQC","x":9.39,"y":0.473},{"p":"Ile-61","s":"2F-HZQC","x":8.97,"y":0.507},{"p":"Ile-61","s":"2F-HZQC","x":8.54,"y":0.466},{"p":"Ile-61","s":"2F-HZQC","x":8.12,"y":0.382},{"p":"Ile-61","s":"2F-HZQC","x":7.69,"y":0.336},{"p":"Ile-61","s":"2F-HZQC","x":7.16,"y":0.32},{"p":"Ile-61","s":"2F-HZQC","x":6.63,"y":0.275},{"p":"Ile-61","s":"2F-HZQC","x":6.1,"y":0.198},{"p":"Ile-61","s":"2F-HZQC","x":5.46,"y":0.142},{"p":"Ile-61","s":"2F-HZQC","x":4.83,"y":0.191},{"p":"Ile-61","s":"2F-HZQC","x":4.19,"y":0.336},{"p":"Ile-61","s":"2F-HZQC","x":3.66,"y":0.366},{"p":"Ile-61","s":"2F-HZQC","x":3.13,"y":0.29},{"p":"Ile-61","s":"2F-HZQC","x":2.59,"y":0.183},{"p":"Ile-61","s":"2F-HZQC","x":2.27,"y":0.153},{"p":"Ile-61","s":"2F-HZQC","x":1.74,"y":0.214},{"p":"Ile-61","s":"2F-HZQC","x":1.21,"y":0.305},{"p":"Ile-61","s":"2F-HZQC","x":0.68,"y":0.339},{"p":"Ile-61","s":"2F-HZQC","x":0,"y":0.333},

{"p":"Ile-61","s":"Complete expansion","x":18,"y":0.229},{"p":"Ile-61","s":"Complete expansion","x":17.36,"y":0.252},{"p":"Ile-61","s":"Complete expansion","x":16.51,"y":0.241},{"p":"Ile-61","s":"Complete expansion","x":15.56,"y":0.328},{"p":"Ile-61","s":"Complete expansion","x":14.81,"y":0.318},{"p":"Ile-61","s":"Complete expansion","x":14.17,"y":0.412},{"p":"Ile-61","s":"Complete expansion","x":13.54,"y":0.466},{"p":"Ile-61","s":"Complete expansion","x":12.9,"y":0.443},{"p":"Ile-61","s":"Complete expansion","x":12.47,"y":0.565},{"p":"Ile-61","s":"Complete expansion","x":12.05,"y":0.809},{"p":"Ile-61","s":"Complete expansion","x":11.62,"y":0.962},{"p":"Ile-61","s":"Complete expansion","x":11.24,"y":0.997},{"p":"Ile-61","s":"Complete expansion","x":10.88,"y":0.947},{"p":"Ile-61","s":"Complete expansion","x":10.46,"y":0.733},{"p":"Ile-61","s":"Complete expansion","x":10.03,"y":0.534},{"p":"Ile-61","s":"Complete expansion","x":9.61,"y":0.466},{"p":"Ile-61","s":"Complete expansion","x":9.08,"y":0.481},{"p":"Ile-61","s":"Complete expansion","x":8.54,"y":0.443},{"p":"Ile-61","s":"Complete expansion","x":8.01,"y":0.351},{"p":"Ile-61","s":"Complete expansion","x":7.59,"y":0.328},{"p":"Ile-61","s":"Complete expansion","x":7.06,"y":0.343},{"p":"Ile-61","s":"Complete expansion","x":6.31,"y":0.275},{"p":"Ile-61","s":"Complete expansion","x":5.46,"y":0.26},{"p":"Ile-61","s":"Complete expansion","x":4.83,"y":0.237},{"p":"Ile-61","s":"Complete expansion","x":4.19,"y":0.202},{"p":"Ile-61","s":"Complete expansion","x":3.34,"y":0.217},{"p":"Ile-61","s":"Complete expansion","x":2.49,"y":0.183},{"p":"Ile-61","s":"Complete expansion","x":1.53,"y":0.191},{"p":"Ile-61","s":"Complete expansion","x":0.68,"y":0.168},{"p":"Ile-61","s":"Complete expansion","x":0,"y":0.18},

{"p":"Ile-61","s":"No expansion","x":18,"y":0.226},{"p":"Ile-61","s":"No expansion","x":16.94,"y":0.267},{"p":"Ile-61","s":"No expansion","x":15.88,"y":0.336},{"p":"Ile-61","s":"No expansion","x":14.81,"y":0.443},{"p":"Ile-61","s":"No expansion","x":13.75,"y":0.595},{"p":"Ile-61","s":"No expansion","x":12.9,"y":0.763},{"p":"Ile-61","s":"No expansion","x":12.16,"y":0.916},{"p":"Ile-61","s":"No expansion","x":11.52,"y":0.985},{"p":"Ile-61","s":"No expansion","x":11.09,"y":0.997},{"p":"Ile-61","s":"No expansion","x":10.56,"y":0.962},{"p":"Ile-61","s":"No expansion","x":9.93,"y":0.824},{"p":"Ile-61","s":"No expansion","x":9.29,"y":0.641},{"p":"Ile-61","s":"No expansion","x":8.65,"y":0.504},{"p":"Ile-61","s":"No expansion","x":8.01,"y":0.412},{"p":"Ile-61","s":"No expansion","x":7.16,"y":0.336},{"p":"Ile-61","s":"No expansion","x":6.1,"y":0.275},{"p":"Ile-61","s":"No expansion","x":5.04,"y":0.229},{"p":"Ile-61","s":"No expansion","x":3.76,"y":0.198},{"p":"Ile-61","s":"No expansion","x":2.49,"y":0.179},{"p":"Ile-61","s":"No expansion","x":1.21,"y":0.168},{"p":"Ile-61","s":"No expansion","x":0,"y":0.163}
]},
"columns":2,
"spacing":{"row":26,"column":23},
"bounds":"flush",
"resolve":{"scale":{"color":"shared"},"legend":{"color":"shared"}},
"concat":[
 {"transform":[{"filter":"datum.p==='Ile-3'"}],"width":282,"height":218,"layer":[
  {"transform":[{"filter":"isValid(datum.s)"}],"mark":{"type":"line","interpolate":"monotone","strokeWidth":1.6,"clip":true},
   "encoding":{"x":{"field":"x","type":"quantitative","scale":{"domain":[0,18],"reverse":true,"nice":false,"zero":false},"axis":{"values":[0,2,4,6,8,10,12,14,16,18],"labels":false,"title":null}},
    "y":{"field":"y","type":"quantitative","scale":{"domain":[0,1],"nice":false},"axis":{"title":"Normalized intensity"}},
    "color":{"field":"s","type":"nominal","scale":{"domain":["2F-HZQC","Complete expansion","No expansion"],"range":["#0000ff","#ff0000","#008000"]}}}},
  {"transform":[{"filter":"isValid(datum.w)"}],"mark":{"type":"text","align":"left","baseline":"alphabetic","fontSize":20,"color":"#000"},
   "encoding":{"x":{"datum":16.72,"type":"quantitative","axis":{"values":[0,2,4,6,8,10,12,14,16,18],"labels":false,"title":null}},"y":{"datum":0.867,"type":"quantitative","axis":{"title":"Normalized intensity"}},"text":{"field":"p","type":"nominal"}}},
  {"transform":[{"filter":"isValid(datum.w)"}],"mark":{"type":"text","align":"left","baseline":"alphabetic","fontSize":18,"color":"#000"},
   "encoding":{"x":{"datum":17.57,"type":"quantitative","axis":{"values":[0,2,4,6,8,10,12,14,16,18],"labels":false,"title":null}},"y":{"datum":0.028,"type":"quantitative","axis":{"title":"Normalized intensity"}},"text":{"field":"w","type":"nominal"}}}
 ]},
 {"transform":[{"filter":"datum.p==='Ile-13'"}],"width":282,"height":218,"layer":[
  {"transform":[{"filter":"isValid(datum.s)"}],"mark":{"type":"line","interpolate":"monotone","strokeWidth":1.6,"clip":true},
   "encoding":{"x":{"field":"x","type":"quantitative","scale":{"domain":[0,18],"reverse":true,"nice":false,"zero":false},"axis":{"values":[0,2,4,6,8,10,12,14,16,18],"labels":false,"title":null}},
    "y":{"field":"y","type":"quantitative","scale":{"domain":[0,1],"nice":false},"axis":null},
    "color":{"field":"s","type":"nominal","scale":{"domain":["2F-HZQC","Complete expansion","No expansion"],"range":["#0000ff","#ff0000","#008000"]}}}},
  {"transform":[{"filter":"isValid(datum.w)"}],"mark":{"type":"text","align":"left","baseline":"alphabetic","fontSize":20,"color":"#000"},
   "encoding":{"x":{"datum":16.72,"type":"quantitative","axis":{"values":[0,2,4,6,8,10,12,14,16,18],"labels":false,"title":null}},"y":{"datum":0.867,"type":"quantitative","axis":null},"text":{"field":"p","type":"nominal"}}},
  {"transform":[{"filter":"isValid(datum.w)"}],"mark":{"type":"text","align":"left","baseline":"alphabetic","fontSize":18,"color":"#000"},
   "encoding":{"x":{"datum":17.57,"type":"quantitative","axis":{"values":[0,2,4,6,8,10,12,14,16,18],"labels":false,"title":null}},"y":{"datum":0.028,"type":"quantitative","axis":null},"text":{"field":"w","type":"nominal"}}}
 ]},
 {"transform":[{"filter":"datum.p==='Ile-23'"}],"width":282,"height":218,"layer":[
  {"transform":[{"filter":"isValid(datum.s)"}],"mark":{"type":"line","interpolate":"monotone","strokeWidth":1.6,"clip":true},
   "encoding":{"x":{"field":"x","type":"quantitative","scale":{"domain":[0,18],"reverse":true,"nice":false,"zero":false},"axis":{"values":[0,2,4,6,8,10,12,14,16,18],"labels":false,"title":null}},
    "y":{"field":"y","type":"quantitative","scale":{"domain":[0,1],"nice":false},"axis":{"title":"Normalized intensity"}},
    "color":{"field":"s","type":"nominal","scale":{"domain":["2F-HZQC","Complete expansion","No expansion"],"range":["#0000ff","#ff0000","#008000"]}}}},
  {"transform":[{"filter":"isValid(datum.w)"}],"mark":{"type":"text","align":"left","baseline":"alphabetic","fontSize":20,"color":"#000"},
   "encoding":{"x":{"datum":16.72,"type":"quantitative","axis":{"values":[0,2,4,6,8,10,12,14,16,18],"labels":false,"title":null}},"y":{"datum":0.867,"type":"quantitative","axis":{"title":"Normalized intensity"}},"text":{"field":"p","type":"nominal"}}},
  {"transform":[{"filter":"isValid(datum.w)"}],"mark":{"type":"text","align":"left","baseline":"alphabetic","fontSize":18,"color":"#000"},
   "encoding":{"x":{"datum":17.57,"type":"quantitative","axis":{"values":[0,2,4,6,8,10,12,14,16,18],"labels":false,"title":null}},"y":{"datum":0.028,"type":"quantitative","axis":{"title":"Normalized intensity"}},"text":{"field":"w","type":"nominal"}}}
 ]},
 {"transform":[{"filter":"datum.p==='Ile-30'"}],"width":282,"height":218,"layer":[
  {"transform":[{"filter":"isValid(datum.s)"}],"mark":{"type":"line","interpolate":"monotone","strokeWidth":1.6,"clip":true},
   "encoding":{"x":{"field":"x","type":"quantitative","scale":{"domain":[0,18],"reverse":true,"nice":false,"zero":false},"axis":{"values":[0,2,4,6,8,10,12,14,16,18],"labels":false,"title":null}},
    "y":{"field":"y","type":"quantitative","scale":{"domain":[0,1],"nice":false},"axis":null},
    "color":{"field":"s","type":"nominal","scale":{"domain":["2F-HZQC","Complete expansion","No expansion"],"range":["#0000ff","#ff0000","#008000"]}}}},
  {"transform":[{"filter":"isValid(datum.w)"}],"mark":{"type":"text","align":"left","baseline":"alphabetic","fontSize":20,"color":"#000"},
   "encoding":{"x":{"datum":16.72,"type":"quantitative","axis":{"values":[0,2,4,6,8,10,12,14,16,18],"labels":false,"title":null}},"y":{"datum":0.867,"type":"quantitative","axis":null},"text":{"field":"p","type":"nominal"}}},
  {"transform":[{"filter":"isValid(datum.w)"}],"mark":{"type":"text","align":"left","baseline":"alphabetic","fontSize":18,"color":"#000"},
   "encoding":{"x":{"datum":17.57,"type":"quantitative","axis":{"values":[0,2,4,6,8,10,12,14,16,18],"labels":false,"title":null}},"y":{"datum":0.028,"type":"quantitative","axis":null},"text":{"field":"w","type":"nominal"}}}
 ]},
 {"transform":[{"filter":"datum.p==='Ile-36'"}],"width":282,"height":218,"layer":[
  {"transform":[{"filter":"isValid(datum.s)"}],"mark":{"type":"line","interpolate":"monotone","strokeWidth":1.6,"clip":true},
   "encoding":{"x":{"field":"x","type":"quantitative","scale":{"domain":[0,18],"reverse":true,"nice":false,"zero":false},"axis":{"values":[0,2,4,6,8,10,12,14,16,18],"labels":false,"title":null}},
    "y":{"field":"y","type":"quantitative","scale":{"domain":[0,1],"nice":false},"axis":{"title":"Normalized intensity"}},
    "color":{"field":"s","type":"nominal","scale":{"domain":["2F-HZQC","Complete expansion","No expansion"],"range":["#0000ff","#ff0000","#008000"]}}}},
  {"transform":[{"filter":"isValid(datum.w)"}],"mark":{"type":"text","align":"left","baseline":"alphabetic","fontSize":20,"color":"#000"},
   "encoding":{"x":{"datum":16.72,"type":"quantitative","axis":{"values":[0,2,4,6,8,10,12,14,16,18],"labels":false,"title":null}},"y":{"datum":0.867,"type":"quantitative","axis":{"title":"Normalized intensity"}},"text":{"field":"p","type":"nominal"}}},
  {"transform":[{"filter":"isValid(datum.w)"}],"mark":{"type":"text","align":"left","baseline":"alphabetic","fontSize":18,"color":"#000"},
   "encoding":{"x":{"datum":17.57,"type":"quantitative","axis":{"values":[0,2,4,6,8,10,12,14,16,18],"labels":false,"title":null}},"y":{"datum":0.028,"type":"quantitative","axis":{"title":"Normalized intensity"}},"text":{"field":"w","type":"nominal"}}}
 ]},
 {"transform":[{"filter":"datum.p==='Ile-44'"}],"width":282,"height":218,"layer":[
  {"transform":[{"filter":"isValid(datum.s)"}],"mark":{"type":"line","interpolate":"monotone","strokeWidth":1.6,"clip":true},
   "encoding":{"x":{"field":"x","type":"quantitative","scale":{"domain":[0,18],"reverse":true,"nice":false,"zero":false},"axis":{"values":[0,2,4,6,8,10,12,14,16,18],"title":"ω₁ - ¹³C (ppm)","labelOverlap":false,"labelSeparation":-30,"labelFlush":false,"labelBound":false}},
    "y":{"field":"y","type":"quantitative","scale":{"domain":[0,1],"nice":false},"axis":null},
    "color":{"field":"s","type":"nominal","scale":{"domain":["2F-HZQC","Complete expansion","No expansion"],"range":["#0000ff","#ff0000","#008000"]}}}},
  {"transform":[{"filter":"isValid(datum.w)"}],"mark":{"type":"text","align":"left","baseline":"alphabetic","fontSize":20,"color":"#000"},
   "encoding":{"x":{"datum":16.72,"type":"quantitative","axis":{"values":[0,2,4,6,8,10,12,14,16,18],"title":"ω₁ - ¹³C (ppm)","labelOverlap":false,"labelSeparation":-30,"labelFlush":false,"labelBound":false}},"y":{"datum":0.867,"type":"quantitative","axis":null},"text":{"field":"p","type":"nominal"}}},
  {"transform":[{"filter":"isValid(datum.w)"}],"mark":{"type":"text","align":"left","baseline":"alphabetic","fontSize":18,"color":"#000"},
   "encoding":{"x":{"datum":17.57,"type":"quantitative","axis":{"values":[0,2,4,6,8,10,12,14,16,18],"title":"ω₁ - ¹³C (ppm)","labelOverlap":false,"labelSeparation":-30,"labelFlush":false,"labelBound":false}},"y":{"datum":0.028,"type":"quantitative","axis":null},"text":{"field":"w","type":"nominal"}}}
 ]},
 {"transform":[{"filter":"datum.p==='Ile-61'"}],"width":282,"height":218,"layer":[
  {"transform":[{"filter":"isValid(datum.s)"}],"mark":{"type":"line","interpolate":"monotone","strokeWidth":1.6,"clip":true},
   "encoding":{"x":{"field":"x","type":"quantitative","scale":{"domain":[0,18],"reverse":true,"nice":false,"zero":false},"axis":{"values":[0,2,4,6,8,10,12,14,16,18],"title":"ω₁ - ¹³C (ppm)","labelOverlap":false,"labelSeparation":-30,"labelFlush":false,"labelBound":false}},
    "y":{"field":"y","type":"quantitative","scale":{"domain":[0,1],"nice":false},"axis":{"title":"Normalized intensity"}},
    "color":{"field":"s","type":"nominal","scale":{"domain":["2F-HZQC","Complete expansion","No expansion"],"range":["#0000ff","#ff0000","#008000"]}}}},
  {"transform":[{"filter":"isValid(datum.w)"}],"mark":{"type":"text","align":"left","baseline":"alphabetic","fontSize":20,"color":"#000"},
   "encoding":{"x":{"datum":16.72,"type":"quantitative","axis":{"values":[0,2,4,6,8,10,12,14,16,18],"title":"ω₁ - ¹³C (ppm)","labelOverlap":false,"labelSeparation":-30,"labelFlush":false,"labelBound":false}},"y":{"datum":0.867,"type":"quantitative","axis":{"title":"Normalized intensity"}},"text":{"field":"p","type":"nominal"}}},
  {"transform":[{"filter":"isValid(datum.w)"}],"mark":{"type":"text","align":"left","baseline":"alphabetic","fontSize":18,"color":"#000"},
   "encoding":{"x":{"datum":17.57,"type":"quantitative","axis":{"values":[0,2,4,6,8,10,12,14,16,18],"title":"ω₁ - ¹³C (ppm)","labelOverlap":false,"labelSeparation":-30,"labelFlush":false,"labelBound":false}},"y":{"datum":0.028,"type":"quantitative","axis":{"title":"Normalized intensity"}},"text":{"field":"w","type":"nominal"}}}
 ]}
],
"config":{"font":"Liberation Sans","view":{"stroke":"#000","strokeWidth":1.5},
 "axisX":{"grid":false,"ticks":true,"tickSize":-4,"tickColor":"#000","tickWidth":1,"domain":false,"labelFontSize":11,"labelPadding":15,"labelFlush":false,"labelOverlap":false,"labelSeparation":-30,"labelColor":"#000","titleFontSize":18,"titleFontWeight":"normal","titleColor":"#000","titlePadding":9,"format":"d"},
 "axisY":{"labels":false,"ticks":false,"domain":false,"grid":false,"titleFontSize":18,"titleFontWeight":"normal","titleColor":"#000","titlePadding":10},
 "legend":{"title":null,"orient":"none","legendX":318,"legendY":810,"symbolType":"stroke","symbolSize":324,"symbolStrokeWidth":1.5,"labelFontSize":18,"labelOffset":10,"labelLimit":0,"rowPadding":0,"labelColor":"#000"}}
}
